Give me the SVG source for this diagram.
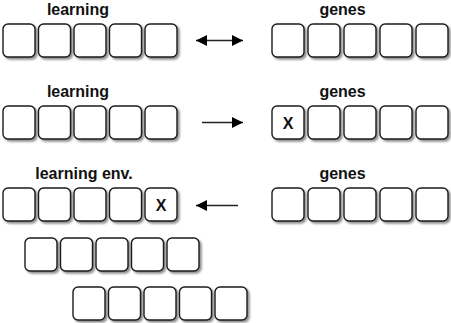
<svg xmlns="http://www.w3.org/2000/svg" width="451" height="323" viewBox="0 0 451 323">
<style>
.b{fill:#fff;stroke:#1a1a1a;stroke-width:1.4;filter:url(#sh)}
.t{font-family:"Liberation Sans",Arial,sans-serif;font-weight:bold;font-size:16px;fill:#111;text-anchor:middle}
.x{font-family:"Liberation Sans",Arial,sans-serif;font-weight:bold;font-size:16px;fill:#111;text-anchor:middle}
.c{stroke:#222;stroke-width:1.5;fill:none}
</style>
<defs>
<filter id="sh" x="-20%" y="-20%" width="150%" height="150%">
<feGaussianBlur in="SourceAlpha" stdDeviation="1.3"/>
<feOffset dx="2" dy="2" result="o"/>
<feComponentTransfer><feFuncA type="linear" slope="0.45"/></feComponentTransfer>
<feMerge><feMergeNode/><feMergeNode in="SourceGraphic"/></feMerge>
</filter>
<marker id="ah" viewBox="0 0 10 10" refX="10" refY="5" markerWidth="11" markerHeight="12" markerUnits="userSpaceOnUse" orient="auto-start-reverse">
<path d="M0,0 L10,5 L0,10 Z" fill="#000"/>
</marker>
<g id="row">
<rect class="b" x="0" y="0" width="32" height="33" rx="5"/>
<rect class="b" x="35.5" y="0" width="32" height="33" rx="5"/>
<rect class="b" x="71" y="0" width="32" height="33" rx="5"/>
<rect class="b" x="106.5" y="0" width="32" height="33" rx="5"/>
<rect class="b" x="142" y="0" width="32" height="33" rx="5"/>
</g>
<g id="grow">
<rect class="b" x="0" y="0" width="32" height="33" rx="5"/>
<rect class="b" x="36" y="0" width="32" height="33" rx="5"/>
<rect class="b" x="72" y="0" width="32" height="33" rx="5"/>
<rect class="b" x="108" y="0" width="32" height="33" rx="5"/>
<rect class="b" x="144" y="0" width="32" height="33" rx="5"/>
</g>
</defs>

<g id="learning1">
<text class="t" x="78" y="14.5">learning</text>
<use href="#row" x="3" y="24"/>
</g>
<g id="genes1">
<text class="t" x="342.5" y="14.5">genes</text>
<use href="#grow" x="272" y="24"/>
</g>

<g id="learning2">
<text class="t" x="78" y="96.5">learning</text>
<use href="#row" x="3" y="106"/>
</g>
<g id="genes2">
<text class="t" x="342.5" y="96.5">genes</text>
<use href="#grow" x="272" y="106"/>
<text class="x" x="288" y="128.5">X</text>
</g>

<g id="learning3">
<text class="t" x="84" y="178.5">learning env.</text>
<use href="#row" x="3" y="188"/>
<text class="x" x="161" y="210.5">X</text>
</g>
<g id="genes3">
<text class="t" x="342.5" y="178.5">genes</text>
<use href="#grow" x="272" y="188"/>
</g>

<g id="row4">
<use href="#row" x="25" y="238"/>
</g>
<g id="row5">
<use href="#row" x="73" y="287"/>
</g>

<g id="connectors">
<line class="c" x1="196" y1="40.5" x2="243" y2="40.5" marker-start="url(#ah)" marker-end="url(#ah)"/>
<line class="c" x1="202" y1="122.5" x2="243" y2="122.5" marker-end="url(#ah)"/>
<line class="c" x1="238" y1="205.5" x2="196" y2="205.5" marker-end="url(#ah)"/>
</g>
</svg>
